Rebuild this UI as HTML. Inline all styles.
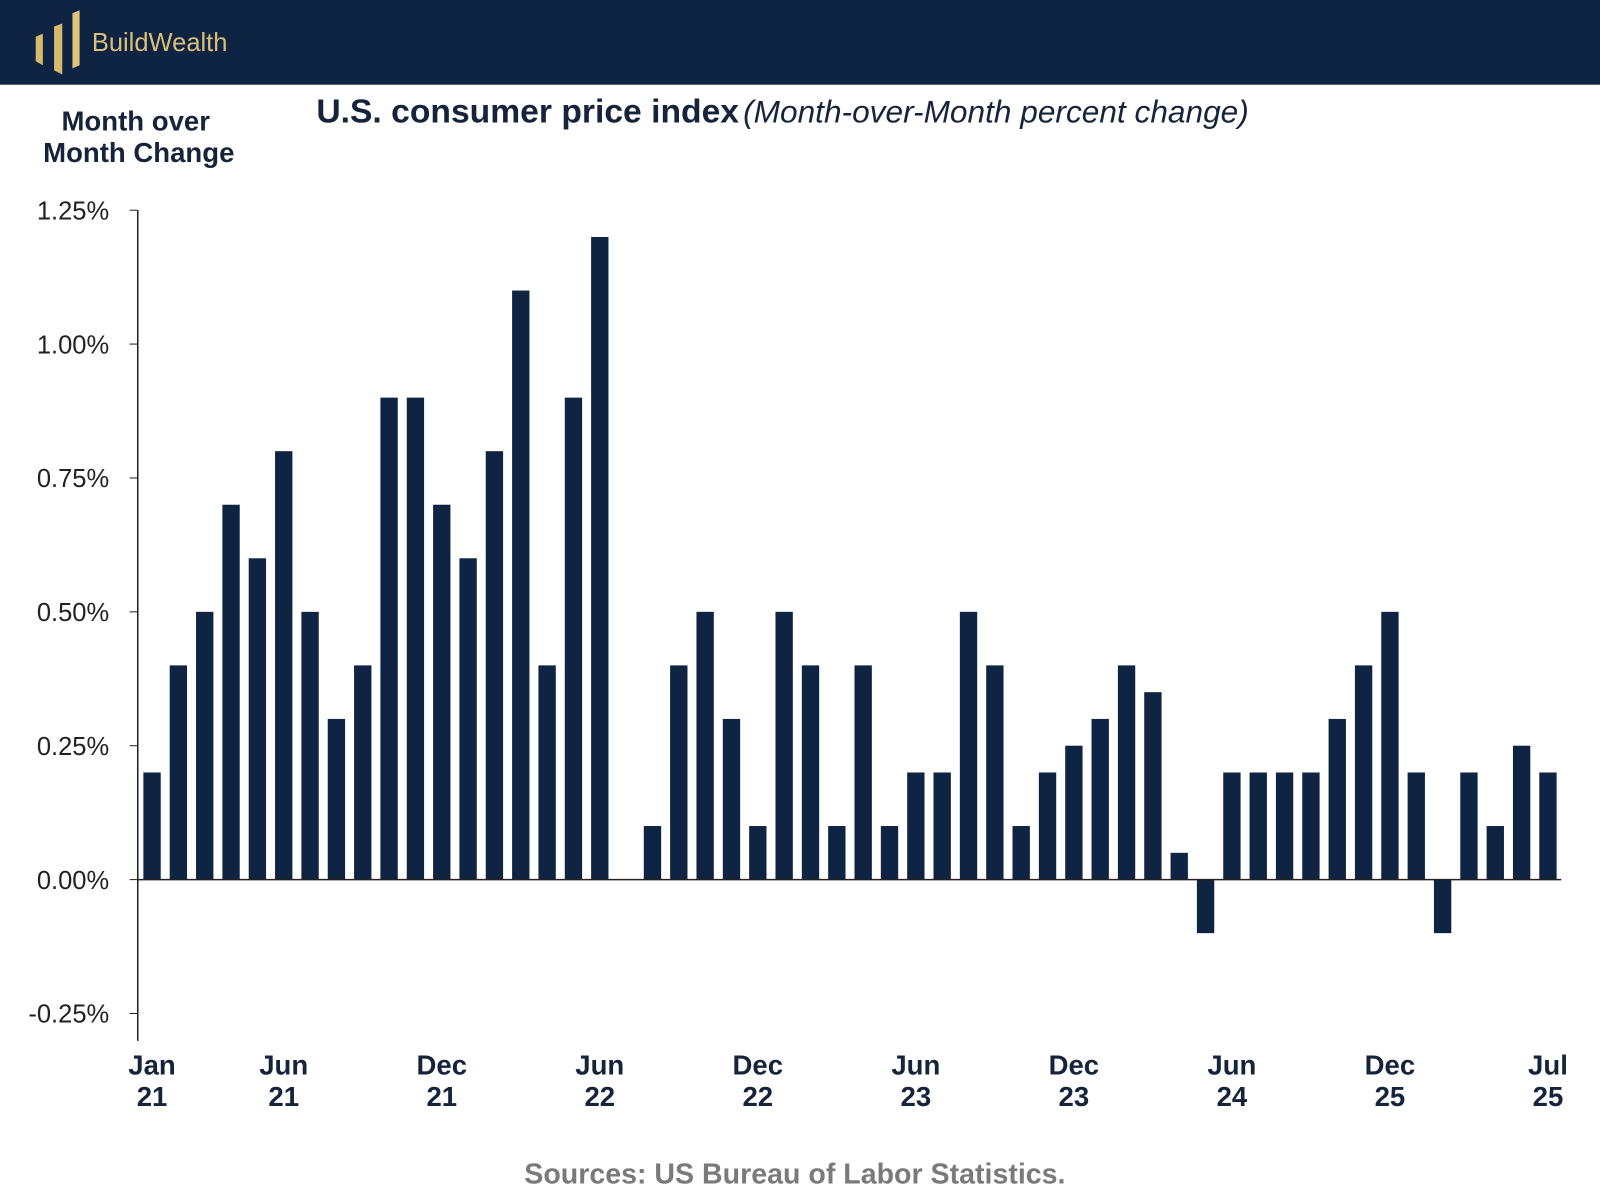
<!DOCTYPE html>
<html><head><meta charset="utf-8"><style>
html,body{margin:0;padding:0;background:#fff;}
svg{display:block;}
text{font-family:"Liberation Sans",sans-serif;}
</style></head><body>
<svg id="chart" width="1600" height="1200" viewBox="0 0 1568 1176">
  <rect x="0" y="0" width="1568" height="83" fill="#0e2442"/>
  <g>
    <polygon points="35,36 42,33 42,64 35,60" fill="#d6b96c"/>
    <polygon points="53,26 61,23 61,73 53,69" fill="#d6b96c"/>
    <polygon points="71,13 78,10 78,64 71,67" fill="#e0c47a"/>
    <text x="90" y="50" font-size="25" fill="#d9bf7a">BuildWealth</text>
  </g>
  <text x="133" y="128" font-size="27" font-weight="bold" fill="#15243a" text-anchor="middle"><tspan x="133">Month over</tspan><tspan x="136" dy="31">Month Change</tspan></text>
  <text x="310" y="120" font-size="33" fill="#15243a"><tspan font-weight="bold">U.S. consumer price index</tspan><tspan font-style="italic" font-size="31" dx="4">(Month-over-Month percent change)</tspan></text>
  <g id="yticks"></g>
  <g id="bars"></g>
  <g id="xlabels"></g>
  <line x1="135" y1="206" x2="135" y2="1020" stroke="#222" stroke-width="1.5"/>
  <line x1="135" y1="862" x2="1530" y2="862" stroke="#222" stroke-width="1.5"/>
  <text x="779" y="1160" font-size="28" font-weight="bold" fill="#7a7a7a" text-anchor="middle">Sources: US Bureau of Labor Statistics.</text>
</svg>
<script>
const values = [0.2,0.4,0.5,0.7,0.6,0.8,0.5,0.3,0.4,0.9,0.9,0.7,
0.6,0.8,1.1,0.4,0.9,1.2,0,0.1,0.4,0.5,0.3,0.1,
0.5,0.4,0.1,0.4,0.1,0.2,0.2,0.5,0.4,0.1,0.2,0.25,
0.3,0.4,0.35,0.05,-0.1,0.2,0.2,0.2,0.2,0.3,0.4,0.5,
0.2,-0.1,0.2,0.1,0.25,0.2];
const yTicks = [1.25,1.0,0.75,0.5,0.25,0,-0.25];
const xLabelIdx = [0,5,11,17,23,29,35,41,47,53];
const xLabelTop = ["Jan","Jun","Dec","Jun","Dec","Jun","Dec","Jun","Dec","Jul"];
const xLabelBottom = ["21","21","21","22","22","23","23","24","25","25"];
const NS="http://www.w3.org/2000/svg";
const y = v => 862 - v*(656/1.25);
const xs = i => 149 + i*((1517-149)/(values.length-1));
const bw = 17;
const bars=document.getElementById('bars');
values.forEach((v,i)=>{
  const r=document.createElementNS(NS,'rect');
  r.setAttribute('x',xs(i)-bw/2);
  r.setAttribute('y',Math.min(y(v),y(0)));
  r.setAttribute('width',bw);
  r.setAttribute('height',Math.abs(y(v)-y(0)));
  r.setAttribute('fill','#0e2442');
  
  
  bars.appendChild(r);
});
const yt=document.getElementById('yticks');
yTicks.forEach(t=>{
  const l=document.createElementNS(NS,'line');
  l.setAttribute('x1',127);l.setAttribute('x2',135);
  l.setAttribute('y1',y(t));l.setAttribute('y2',y(t));
  l.setAttribute('stroke','#222');
  
  
  yt.appendChild(l);
  const tx=document.createElementNS(NS,'text');
  tx.setAttribute('x',107);tx.setAttribute('y',y(t)+9);
  tx.setAttribute('text-anchor','end');tx.setAttribute('font-size','25');
  tx.setAttribute('fill','#222');
  tx.textContent=t.toFixed(2)+'%';
  
  
  yt.appendChild(tx);
});
const xl=document.getElementById('xlabels');
xLabelIdx.forEach((idx,k)=>{
  const tx=document.createElementNS(NS,'text');
  tx.setAttribute('text-anchor','middle');tx.setAttribute('font-size','27');
  tx.setAttribute('font-weight','bold');tx.setAttribute('fill','#15243a');
  const a=document.createElementNS(NS,'tspan');
  a.setAttribute('x',xs(idx));a.setAttribute('y',1053);a.textContent=xLabelTop[k];
  const b=document.createElementNS(NS,'tspan');
  b.setAttribute('x',xs(idx));b.setAttribute('y',1084);b.textContent=xLabelBottom[k];
  tx.appendChild(a);tx.appendChild(b);
  
  
  xl.appendChild(tx);
});
</script>
</body></html>
